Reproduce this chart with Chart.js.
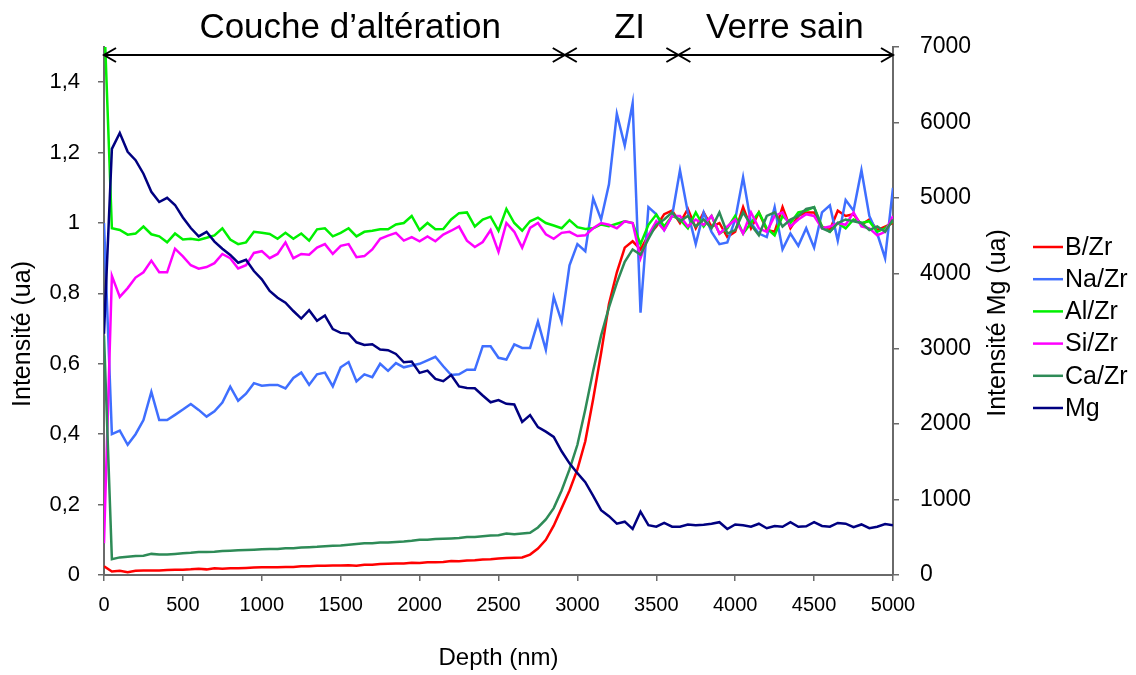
<!DOCTYPE html>
<html>
<head>
<meta charset="utf-8">
<script src="https://cdn.jsdelivr.net/npm/chart.js@4.4.1/dist/chart.umd.min.js"></script>
<style>
  html, body { margin: 0; padding: 0; background: #fff; }
</style>
</head>
<body>
<canvas id="profil" width="1136" height="675"></canvas>
<script>
// profondeur (nm)
const depth = [
  0, 50, 100, 150, 200, 250, 300, 350, 400, 450,
  500, 550, 600, 650, 700, 750, 800, 850, 900, 950,
  1000, 1050, 1100, 1150, 1200, 1250, 1300, 1350, 1400, 1450,
  1500, 1550, 1600, 1650, 1700, 1750, 1800, 1850, 1900, 1950,
  2000, 2050, 2100, 2150, 2200, 2250, 2300, 2350, 2400, 2450,
  2500, 2550, 2600, 2650, 2700, 2750, 2800, 2850, 2900, 2950,
  3000, 3050, 3100, 3150, 3200, 3250, 3300, 3350, 3400, 3450,
  3500, 3550, 3600, 3650, 3700, 3750, 3800, 3850, 3900, 3950,
  4000, 4050, 4100, 4150, 4200, 4250, 4300, 4350, 4400, 4450,
  4500, 4550, 4600, 4650, 4700, 4750, 4800, 4850, 4900, 4950,
  5000
];

const bZr = [
  0.025, 0.010, 0.012, 0.008, 0.012, 0.013, 0.013, 0.013, 0.014, 0.015,
  0.015, 0.016, 0.018, 0.016, 0.019, 0.018, 0.019, 0.019, 0.020, 0.021,
  0.022, 0.022, 0.022, 0.023, 0.023, 0.025, 0.025, 0.026, 0.026, 0.027,
  0.027, 0.028, 0.026, 0.029, 0.029, 0.031, 0.032, 0.033, 0.033, 0.035,
  0.034, 0.036, 0.036, 0.037, 0.040, 0.039, 0.041, 0.042, 0.044, 0.045,
  0.047, 0.048, 0.049, 0.050, 0.058, 0.075, 0.100, 0.140, 0.190, 0.240,
  0.300, 0.380, 0.500, 0.630, 0.770, 0.860, 0.930, 0.948, 0.925, 0.965,
  0.990, 1.025, 1.035, 1.000, 1.040, 0.985, 1.030, 0.990, 1.000, 0.960,
  0.975, 1.045, 0.985, 1.030, 0.980, 0.975, 1.045, 0.985, 1.020, 1.030,
  1.030, 0.990, 0.980, 1.035, 1.020, 1.025, 0.995, 1.010, 0.980, 0.990,
  1.000
];

const naZr = [
  1.000, 0.400, 0.410, 0.370, 0.400, 0.440, 0.520, 0.440, 0.440, 0.455,
  0.470, 0.486, 0.469, 0.450, 0.465, 0.490, 0.535, 0.495, 0.515, 0.545,
  0.538, 0.540, 0.540, 0.530, 0.560, 0.575, 0.540, 0.570, 0.575, 0.536,
  0.590, 0.605, 0.550, 0.570, 0.562, 0.600, 0.580, 0.602, 0.590, 0.595,
  0.600, 0.610, 0.620, 0.593, 0.568, 0.570, 0.583, 0.583, 0.650, 0.650,
  0.617, 0.612, 0.655, 0.645, 0.645, 0.720, 0.640, 0.790, 0.720, 0.880,
  0.940, 0.920, 1.070, 1.010, 1.110, 1.310, 1.220, 1.340, 0.745, 1.045,
  1.025, 0.980, 1.020, 1.150, 1.030, 0.940, 1.030, 0.975, 0.940, 0.945,
  1.010, 1.130, 1.000, 0.970, 0.960, 1.045, 0.925, 0.970, 0.935, 0.985,
  0.930, 1.030, 1.050, 0.950, 1.065, 1.035, 1.150, 1.020, 0.970, 0.900,
  1.100
];

const alZr = [
  1.600, 0.985, 0.980, 0.967, 0.970, 0.990, 0.968, 0.962, 0.945, 0.970,
  0.953, 0.955, 0.952, 0.958, 0.965, 0.985, 0.953, 0.940, 0.945, 0.975,
  0.972, 0.969, 0.955, 0.972, 0.955, 0.970, 0.950, 0.982, 0.985, 0.962,
  0.972, 0.985, 0.962, 0.975, 0.978, 0.982, 0.982, 0.996, 1.000, 1.020,
  0.980, 1.000, 0.982, 0.983, 1.010, 1.028, 1.030, 0.990, 1.010, 1.018,
  0.978, 1.040, 1.000, 0.978, 1.005, 1.015, 1.000, 0.993, 0.985, 1.008,
  0.988, 0.983, 0.985, 0.996, 0.991, 0.998, 1.005, 1.000, 0.940, 0.995,
  1.024, 0.990, 1.020, 1.010, 0.985, 1.030, 0.990, 1.020, 0.970, 0.985,
  1.020, 0.970, 1.000, 1.030, 0.985, 0.965, 1.020, 1.000, 1.030, 1.035,
  1.045, 0.990, 0.975, 1.000, 0.985, 1.010, 1.000, 1.005, 0.975, 0.985,
  1.005
];

const siZr = [
  0.090, 0.850, 0.790, 0.815, 0.845, 0.860, 0.893, 0.860, 0.860, 0.927,
  0.905, 0.880, 0.870, 0.875, 0.886, 0.912, 0.900, 0.871, 0.880, 0.915,
  0.920, 0.900, 0.912, 0.945, 0.900, 0.912, 0.910, 0.930, 0.940, 0.912,
  0.935, 0.940, 0.903, 0.906, 0.925, 0.955, 0.964, 0.972, 0.950, 0.960,
  0.948, 0.962, 0.948, 0.967, 0.978, 0.990, 0.950, 0.932, 0.946, 0.980,
  0.918, 1.000, 0.975, 0.930, 0.986, 1.000, 0.968, 0.955, 0.972, 0.975,
  0.963, 0.965, 0.985, 1.000, 0.995, 0.985, 1.005, 1.000, 0.900, 0.965,
  1.005, 0.980, 1.020, 1.020, 0.990, 1.010, 0.995, 1.020, 0.970, 0.990,
  1.010, 0.970, 1.030, 0.985, 0.975, 1.020, 1.030, 0.990, 1.010, 1.025,
  1.020, 0.985, 0.990, 1.000, 0.995, 1.030, 0.990, 0.985, 0.965, 0.975,
  1.020
];

const caZr = [
  0.680, 0.045, 0.050, 0.052, 0.054, 0.055, 0.060, 0.058, 0.058, 0.060,
  0.062, 0.063, 0.065, 0.065, 0.066, 0.068, 0.069, 0.070, 0.071, 0.072,
  0.073, 0.074, 0.074, 0.076, 0.076, 0.078, 0.079, 0.080, 0.082, 0.083,
  0.084, 0.086, 0.088, 0.090, 0.090, 0.092, 0.092, 0.094, 0.095, 0.097,
  0.100, 0.100, 0.102, 0.103, 0.104, 0.105, 0.108, 0.108, 0.110, 0.112,
  0.113, 0.118, 0.116, 0.118, 0.120, 0.135, 0.158, 0.190, 0.240, 0.300,
  0.370, 0.470, 0.580, 0.680, 0.760, 0.830, 0.890, 0.925, 0.910, 0.955,
  0.995, 1.010, 1.030, 1.005, 1.020, 0.990, 1.010, 0.985, 1.030, 0.970,
  0.980, 1.030, 0.995, 0.965, 1.020, 1.030, 0.990, 1.010, 1.020, 1.040,
  1.045, 0.985, 0.975, 1.000, 1.010, 1.005, 1.000, 0.980, 0.990, 0.975,
  1.010
];

// Mg : axe de droite
const mg = [
  3200, 5650, 5860, 5610, 5500, 5320, 5080, 4945, 5000, 4906,
  4740, 4600, 4490, 4550, 4420, 4325, 4243, 4140, 4180, 4030,
  3920, 3765, 3675, 3610, 3500, 3400, 3510, 3370, 3440, 3260,
  3210, 3200, 3085, 3050, 3060, 2990, 2980, 2930, 2820, 2830,
  2680, 2710, 2600, 2570, 2650, 2500, 2480, 2475, 2380, 2290,
  2320, 2270, 2260, 2030, 2120, 1960, 1900, 1830, 1640, 1480,
  1350, 1230, 1050, 860, 780, 680, 707, 610, 840, 660,
  640, 690, 640, 640, 670, 660, 665, 680, 700, 610,
  670, 660, 640, 680, 620, 650, 640, 700, 640, 645,
  700, 650, 640, 690, 680, 635, 670, 620, 640, 676,
  660
];

const seriesNames = ['B/Zr', 'Na/Zr', 'Al/Zr', 'Si/Zr', 'Ca/Zr', 'Mg'];
const seriesColors = ['#ff0000', '#3f6fff', '#00f000', '#ff00ff', '#2e8b57', '#000080'];

// zones en haut du graphique
const zoneNames = ['Couche d\u2019altération', 'ZI', 'Verre sain'];
const zoneBounds = [0, 2920, 3640, 5000];
const zoneTextX = [1560, 3330, 4315];

const leftTicks = [0, 0.2, 0.4, 0.6, 0.8, 1, 1.2, 1.4];

const FONT = "'Liberation Sans', Arial, sans-serif";

function pts(arr) {
  return depth.map((d, i) => ({ x: d, y: arr[i] }));
}

const valuesBySeries = [bZr, naZr, alZr, siZr, caZr, mg];

const datasets = valuesBySeries.map((vals, i) => ({
  label: seriesNames[i],
  data: pts(vals),
  borderColor: seriesColors[i],
  backgroundColor: seriesColors[i],
  yAxisID: seriesNames[i] === 'Mg' ? 'y2' : 'y',
  order: 6 - i
}));

function drawArrowHead(ctx, x, y, dir) {
  ctx.beginPath();
  ctx.moveTo(x - dir * 12, y - 7);
  ctx.lineTo(x, y);
  ctx.lineTo(x - dir * 12, y + 7);
  ctx.stroke();
}

const extras = {
  id: 'extras',
  afterDraw(chart) {
    const { ctx, chartArea, scales: { x } } = chart;
    ctx.save();

    // flèches des zones
    const ya = chartArea.top + 8;
    ctx.strokeStyle = '#000';
    ctx.lineWidth = 2;
    for (let i = 0; i < zoneNames.length; i++) {
      const x0 = x.getPixelForValue(zoneBounds[i]);
      const x1 = x.getPixelForValue(zoneBounds[i + 1]);
      ctx.beginPath();
      ctx.moveTo(x0, ya);
      ctx.lineTo(x1, ya);
      ctx.stroke();
      drawArrowHead(ctx, x0, ya, -1);
      drawArrowHead(ctx, x1, ya, 1);
    }
    ctx.fillStyle = '#000';
    ctx.font = '35px ' + FONT;
    ctx.textAlign = 'center';
    ctx.textBaseline = 'middle';
    zoneNames.forEach((t, i) => {
      ctx.fillText(t, x.getPixelForValue(zoneTextX[i]), 28);
    });

    // titres des axes verticaux
    ctx.font = '25px ' + FONT;
    [['Intensité (ua)', 23, 334], ['Intensité Mg (ua)', 998, 323]].forEach(([t, cx, cy]) => {
      ctx.save();
      ctx.translate(cx, cy);
      ctx.rotate(-Math.PI / 2);
      ctx.fillText(t, 0, 0);
      ctx.restore();
    });

    // légende
    ctx.textAlign = 'left';
    ctx.font = '25px ' + FONT;
    chart.data.datasets.forEach((ds, i) => {
      const y = 247 + i * 32.2;
      ctx.strokeStyle = ds.borderColor;
      ctx.lineWidth = 2.5;
      ctx.beginPath();
      ctx.moveTo(1033, y);
      ctx.lineTo(1063, y);
      ctx.stroke();
      ctx.fillStyle = '#000';
      ctx.fillText(ds.label, 1065, y + 1);
    });
    ctx.restore();
  }
};

const axisColor = '#6a6a6a';

new Chart(document.getElementById('profil'), {
  type: 'line',
  data: { datasets },
  options: {
    responsive: false,
    animation: false,
    layout: { padding: { top: 47, left: 0, right: 0, bottom: 0 } },
    elements: {
      point: { radius: 0 },
      line: { borderWidth: 2.5, tension: 0 }
    },
    plugins: {
      legend: { display: false },
      tooltip: { enabled: false }
    },
    scales: {
      x: {
        type: 'linear',
        min: 0,
        max: 5000,
        afterFit: s => { s.height = 100; },
        grid: { drawOnChartArea: false, tickLength: 6, color: axisColor, lineWidth: 1.5 },
        border: { color: axisColor, width: 2 },
        ticks: {
          stepSize: 500,
          padding: 12,
          color: '#000',
          font: { family: FONT, size: 20 },
          maxRotation: 0,
          callback: v => String(v)
        },
        title: {
          display: true,
          text: 'Depth (nm)',
          color: '#000',
          font: { family: FONT, size: 24 },
          padding: { top: 0, bottom: 2 }
        }
      },
      y: {
        position: 'left',
        min: 0,
        max: 1.5,
        afterFit: s => { s.width = 104; },
        afterBuildTicks: s => { s.ticks = leftTicks.map(v => ({ value: v })); },
        grid: { drawOnChartArea: false, tickLength: 6, color: axisColor, lineWidth: 1.5 },
        border: { color: axisColor, width: 2 },
        ticks: {
          padding: 18,
          color: '#000',
          font: { family: FONT, size: 22 },
          callback: v => String(Number(v.toFixed(1))).replace('.', ',')
        }
      },
      y2: {
        position: 'right',
        min: 0,
        max: 7000,
        afterFit: s => { s.width = 243; },
        grid: { drawOnChartArea: false, tickLength: 6, color: axisColor, lineWidth: 1.5 },
        border: { color: axisColor, width: 2 },
        ticks: {
          stepSize: 1000,
          padding: 21,
          color: '#000',
          font: { family: FONT, size: 23 },
          callback: v => String(v)
        }
      }
    }
  },
  plugins: [extras]
});
</script>
</body>
</html>
